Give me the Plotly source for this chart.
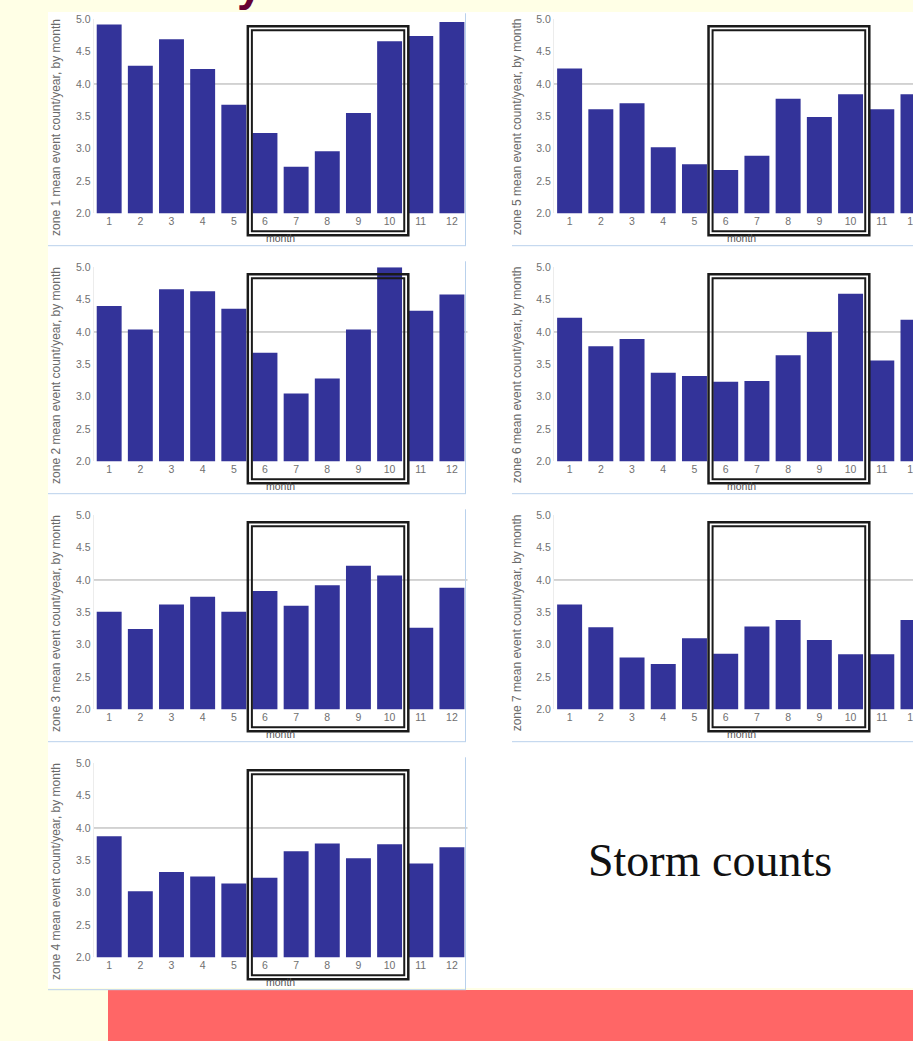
import plotly.graph_objects as go

W, H = 913, 1041

# ---------------- data ----------------
months = list(range(1, 13))
month_labels = [str(m) for m in months]
y_tick_vals = [2.0, 2.5, 3.0, 3.5, 4.0, 4.5, 5.0]
y_tick_labels = ["2.0", "2.5", "3.0", "3.5", "4.0", "4.5", "5.0"]

zone1 = [4.92, 4.28, 4.69, 4.23, 3.68, 3.24, 2.72, 2.96, 3.55, 4.66, 4.74, 4.96]
zone2 = [4.40, 4.04, 4.66, 4.63, 4.36, 3.68, 3.05, 3.28, 4.04, 5.00, 4.33, 4.58]
zone3 = [3.51, 3.24, 3.62, 3.74, 3.51, 3.83, 3.60, 3.92, 4.22, 4.07, 3.26, 3.88]
zone4 = [3.87, 3.02, 3.32, 3.25, 3.14, 3.23, 3.64, 3.76, 3.53, 3.75, 3.45, 3.70]
zone5 = [4.24, 3.61, 3.70, 3.02, 2.76, 2.67, 2.89, 3.77, 3.49, 3.84, 3.61, 3.84]
zone6 = [4.22, 3.78, 3.89, 3.37, 3.32, 3.23, 3.24, 3.64, 4.00, 4.59, 3.56, 4.19]
zone7 = [3.62, 3.27, 2.80, 2.70, 3.10, 2.86, 3.28, 3.38, 3.07, 2.85, 2.85, 3.38]

zone_numbers = [1, 2, 3, 4, 5, 6, 7]
zone_values = [zone1, zone2, zone3, zone4, zone5, zone6, zone7]
panel_cols = [0, 0, 0, 0, 1, 1, 1]
panel_rows = [0, 1, 2, 3, 0, 1, 2]
highlight_months = (5.5, 10.5)
side_text = "Storm counts"

# ---------------- styling ----------------
BG = "#FFFFE6"
BAR = "#333399"
TICK = "#707070"
BORDER = "#B9D1EC"
FONT = "Liberation Sans"

col_x = [(93.6, 467.5), (554.0, 913.0)]
col_range = [[0.5, 12.5], [0.5, 12.0]]
row_top0, row_bot0, row_step = 19.3, 213.3, 248.0


def px(xp):
    return xp / W


def py(yp):
    return 1 - yp / H


fig = go.Figure()
shapes = []
annotations = []

# white slide area and red footer
shapes.append(dict(type="rect", xref="paper", yref="paper", x0=px(48), x1=1,
                   y0=py(988), y1=py(12), fillcolor="white", line_width=0, layer="below"))
shapes.append(dict(type="rect", xref="paper", yref="paper", x0=px(108), x1=1,
                   y0=0, y1=py(990), fillcolor="#FF6666", line_width=0, layer="below"))

layout_axes = {}
for i, (zn, vals, c, r) in enumerate(zip(zone_numbers, zone_values, panel_cols, panel_rows)):
    k = i + 1
    xa = "x" if k == 1 else f"x{k}"
    ya = "y" if k == 1 else f"y{k}"
    top = row_top0 + row_step * r
    bot = row_bot0 + row_step * r
    x0p, x1p = col_x[c]
    fig.add_trace(go.Bar(x=months, y=vals, xaxis=xa, yaxis=ya,
                         marker=dict(color=BAR, line=dict(width=0)),
                         showlegend=False, hoverinfo="skip"))
    layout_axes["xaxis" if k == 1 else f"xaxis{k}"] = dict(
        domain=[px(x0p), min(1.0, px(x1p))], range=col_range[c], anchor=ya,
        tickmode="array", tickvals=months, ticktext=month_labels,
        tickfont=dict(size=10.5, color=TICK, family=FONT), ticks="",
        ticklabeloverflow="allow", automargin=False,
        showgrid=False, zeroline=False, showline=False, fixedrange=True)
    layout_axes["yaxis" if k == 1 else f"yaxis{k}"] = dict(
        domain=[py(bot), py(top)], range=[2.0, 5.0], anchor=xa,
        tickmode="array", tickvals=y_tick_vals, ticktext=y_tick_labels,
        tickfont=dict(size=10.5, color=TICK, family=FONT), ticks="",
        automargin=False,
        showgrid=False, zeroline=False, showline=True, linecolor="#ececec",
        linewidth=1, fixedrange=True)

    # reference line at 4.0
    shapes.append(dict(type="line", xref=f"{xa} domain", yref=ya, x0=0, x1=1, y0=4.0, y1=4.0,
                       line=dict(color="#a8a8a8", width=1), layer="below"))
    # double box around months 6-10
    shapes.append(dict(type="rect", xref=xa, yref=f"{ya} domain",
                       x0=highlight_months[0] - 0.05, x1=highlight_months[1] + 0.1,
                       y0=-0.113, y1=0.964, line=dict(color="#1a1a1a", width=2.5),
                       fillcolor="rgba(0,0,0,0)", layer="above"))
    shapes.append(dict(type="rect", xref=xa, yref=f"{ya} domain",
                       x0=highlight_months[0] + 0.08, x1=highlight_months[1] - 0.03,
                       y0=-0.093, y1=0.943, line=dict(color="#1a1a1a", width=2),
                       fillcolor="rgba(0,0,0,0)", layer="above"))
    # panel borders
    by = bot + 32.4
    if c == 0:
        shapes.append(dict(type="line", xref="paper", yref="paper", x0=px(48), x1=px(466),
                           y0=py(by), y1=py(by), line=dict(color=BORDER, width=1)))
        shapes.append(dict(type="line", xref="paper", yref="paper", x0=px(465.5), x1=px(465.5),
                           y0=py(by), y1=py(top - 6), line=dict(color=BORDER, width=1)))
    else:
        shapes.append(dict(type="line", xref="paper", yref="paper", x0=px(512), x1=1,
                           y0=py(by), y1=py(by), line=dict(color=BORDER, width=1)))

    # y title
    annotations.append(dict(xref="paper", yref="paper", x=px(x0p - 37), y=py((top + bot) / 2 + 11),
                            text=f"zone {zn} mean event count/year, by month", textangle=-90,
                            showarrow=False, xanchor="center", yanchor="middle",
                            font=dict(size=12, color="#6a6a6a", family=FONT)))
    # x title
    annotations.append(dict(xref=xa, yref=f"{ya} domain", x=6.5, y=-25 / (bot - top),
                            text="month", showarrow=False, xanchor="center", yanchor="middle",
                            font=dict(size=10.5, color="#555555", family=FONT)))

annotations.append(dict(xref="paper", yref="paper", x=px(710), y=py(860), text=side_text,
                        showarrow=False, xanchor="center", yanchor="middle",
                        font=dict(size=46, color="#111111", family="Liberation Serif")))
# descender of the slide title, cut off at the top edge
annotations.append(dict(xref="paper", yref="paper", x=px(250), y=py(-16), text="y",
                        showarrow=False, xanchor="center", yanchor="middle",
                        font=dict(size=46, color="#660033", family=FONT, weight="bold")))

fig.update_layout(
    width=W, height=H, margin=dict(l=0, r=0, t=0, b=0, pad=0, autoexpand=False),
    paper_bgcolor=BG, plot_bgcolor="rgba(0,0,0,0)",
    bargap=0.2, showlegend=False,
    shapes=shapes, annotations=annotations,
    **layout_axes,
)

fig.write_html("out.html", config={"displayModeBar": False})

# remove the default page margin so the figure sits at the window's top-left corner
with open("out.html", encoding="utf-8") as f:
    html = f.read()
html = html.replace("<head>", "<head><style>html,body{margin:0;padding:0;overflow:hidden;}</style>", 1)
with open("out.html", "w", encoding="utf-8") as f:
    f.write(html)
